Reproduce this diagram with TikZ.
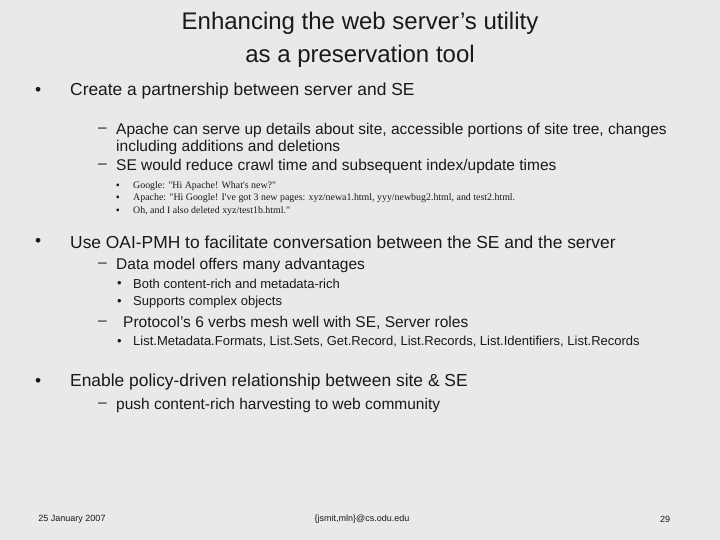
\documentclass[tikz,border=0pt]{standalone}
\usepackage{fontspec}
\setmainfont{Liberation Sans}
\newfontfamily\serf{Liberation Serif}
\begin{document}
\begin{tikzpicture}[x=1bp,y=-1bp,
  every node/.style={inner sep=0pt,anchor=west,text=black!90},
  lone/.style={font=\fontsize{17.4bp}{20bp}\selectfont},
  ltwo/.style={font=\fontsize{15.5bp}{17bp}\selectfont},
  lthree/.style={font=\fontsize{13bp}{15bp}\selectfont},
  lsmall/.style={font=\serf\fontsize{9.9bp}{11bp}\selectfont},
  foot/.style={font=\fontsize{9bp}{11bp}\selectfont,anchor=center}]
\fill[gray!17] (0,0) rectangle (720,540);
\useasboundingbox (0,0) rectangle (720,540);
\node[anchor=center,align=center,font=\fontsize{24bp}{33bp}\selectfont] (title) at (360,40) {Enhancing the web server’s utility\\as a preservation tool};
\node[lone] (b1d) at (35,91) {•};
\node[lone] (b1) at (70,91) {Create a partnership between server and SE};
\node[ltwo] (d1) at (98,130) {–};
\node[ltwo] (d1t) at (116,130) {Apache can serve up details about site, accessible portions of site tree, changes};
\node[ltwo] (d1u) at (116,147) {including additions and deletions};
\node[ltwo] (d2) at (98,166) {–};
\node[ltwo] (d2t) at (116,166) {SE would reduce crawl time and subsequent index/update times};
\node[lsmall] (s1d) at (116,186) {▪};
\node[lsmall] (s1) at (133,186) {Google: "Hi Apache! What's new?"};
\node[lsmall] (s2d) at (116,198) {▪};
\node[lsmall] (s2) at (133,198) {Apache: "Hi Google! I've got 3 new pages: xyz/newa1.html, yyy/newbug2.html, and test2.html.};
\node[lsmall] (s3d) at (116,211) {▪};
\node[lsmall] (s3) at (133,211) {Oh, and I also deleted xyz/test1b.html."};
\node[lone] (b2d) at (35,242) {•};
\node[lone] (b2) at (70,242) {Use OAI-PMH to facilitate conversation between the SE and the server};
\node[ltwo] (d3) at (98,265) {–};
\node[ltwo] (d3t) at (116,265) {Data model offers many advantages};
\node[lthree] (t1d) at (117,284) {•};
\node[lthree] (t1) at (133,284) {Both content-rich and metadata-rich};
\node[lthree] (t2d) at (117,302) {•};
\node[lthree] (t2) at (133,302) {Supports complex objects};
\node[ltwo] (d4) at (98,323) {–};
\node[ltwo] (d4t) at (123,323) {Protocol’s 6 verbs mesh well with SE, Server roles};
\node[lthree] (t3d) at (117,342) {•};
\node[lthree] (t3) at (133,342) {List.Metadata.Formats, List.Sets, Get.Record, List.Records, List.Identifiers, List.Records};
\node[lone] (b3d) at (35,382) {•};
\node[lone] (b3) at (70,382) {Enable policy-driven relationship between site \& SE};
\node[ltwo] (d5) at (98,405) {–};
\node[ltwo] (d5t) at (116,405) {push content-rich harvesting to web community};
\node[foot] (f1) at (72,519) {25 January 2007};
\node[foot] (f2) at (362,519) {\{jsmit,mln\}@cs.odu.edu};
\node[foot] (f3) at (665,519) {29};
\end{tikzpicture}
\end{document}
